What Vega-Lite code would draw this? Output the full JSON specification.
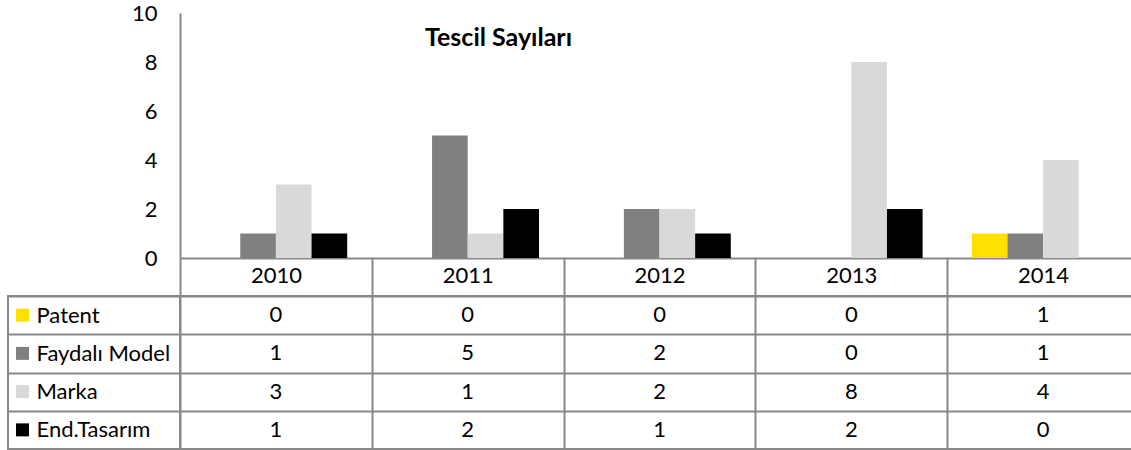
{
  "$schema": "https://vega.github.io/schema/vega-lite/v6.json",
  "padding": {"left": 7, "top": 2, "right": 0, "bottom": 0},
  "datasets": {
    "d": [
      {"year": "2010", "series": "Patent", "value": 0},
      {"year": "2010", "series": "Faydalı Model", "value": 1},
      {"year": "2010", "series": "Marka", "value": 3},
      {"year": "2010", "series": "End.Tasarım", "value": 1},
      {"year": "2011", "series": "Patent", "value": 0},
      {"year": "2011", "series": "Faydalı Model", "value": 5},
      {"year": "2011", "series": "Marka", "value": 1},
      {"year": "2011", "series": "End.Tasarım", "value": 2},
      {"year": "2012", "series": "Patent", "value": 0},
      {"year": "2012", "series": "Faydalı Model", "value": 2},
      {"year": "2012", "series": "Marka", "value": 2},
      {"year": "2012", "series": "End.Tasarım", "value": 1},
      {"year": "2013", "series": "Patent", "value": 0},
      {"year": "2013", "series": "Faydalı Model", "value": 0},
      {"year": "2013", "series": "Marka", "value": 8},
      {"year": "2013", "series": "End.Tasarım", "value": 2},
      {"year": "2014", "series": "Patent", "value": 1},
      {"year": "2014", "series": "Faydalı Model", "value": 1},
      {"year": "2014", "series": "Marka", "value": 4},
      {"year": "2014", "series": "End.Tasarım", "value": 0}
    ]
  },
  "columns": 2,
  "spacing": {"row": 38, "column": 0},
  "bounds": "flush",
  "concat": [
    {
      "width": 172,
      "height": 245,
      "data": {"values": [{}]},
      "mark": {"type": "point", "opacity": 0},
      "view": {"stroke": null}
    },
    {
      "width": 959,
      "height": 245,
      "data": {"name": "d"},
      "title": {"text": "Tescil Sayıları", "anchor": "start", "frame": "group", "dx": 245, "dy": 53, "fontSize": 25, "fontWeight": "bold", "font": "Lato", "color": "#000"},
      "mark": {"type": "bar"},
      "encoding": {
        "x": {
          "field": "year", "type": "ordinal",
          "scale": {"type": "band", "paddingInner": 0, "paddingOuter": 0},
          "axis": {"title": null, "labelAngle": 0, "tickBand": "extent", "tickSize": 38, "tickColor": "#888", "tickWidth": 2, "domainColor": "#888", "domainWidth": 2, "labelPadding": -31, "labelFontSize": 22, "labelColor": "#000", "grid": false}
        },
        "xOffset": {
          "field": "series", "type": "nominal",
          "sort": ["Patent", "Faydalı Model", "Marka", "End.Tasarım"],
          "scale": {"paddingInner": 0, "paddingOuter": 0.69}
        },
        "y": {
          "field": "value", "type": "quantitative",
          "scale": {"domain": [0, 10], "nice": false},
          "axis": {"title": null, "values": [0, 2, 4, 6, 8, 10], "grid": false, "ticks": false, "labelPadding": 23, "domainColor": "#888", "domainWidth": 2, "labelFontSize": 22, "labelColor": "#000"}
        },
        "color": {
          "field": "series", "type": "nominal",
          "scale": {"domain": ["Patent", "Faydalı Model", "Marka", "End.Tasarım"], "range": ["#FFE000", "#808080", "#D9D9D9", "#000000"]},
          "legend": null
        }
      },
      "view": {"stroke": null}
    },
    {
      "width": 172,
      "height": 153,
      "data": {"name": "d"},
      "transform": [{"filter": "datum.year == '2010'"}],
      "mark": {"type": "point", "shape": "square", "filled": true, "size": 169, "opacity": 1},
      "encoding": {
        "x": {"datum": 14.5, "type": "quantitative", "scale": {"domain": [0, 172], "nice": false, "zero": false}, "axis": null},
        "y": {
          "field": "series", "type": "nominal",
          "sort": ["Patent", "Faydalı Model", "Marka", "End.Tasarım"],
          "scale": {"type": "band", "paddingInner": 0, "paddingOuter": 0},
          "axis": {"title": null, "tickBand": "extent", "grid": true, "gridColor": "#888", "gridWidth": 2, "ticks": false, "tickSize": 0, "domain": false, "labelAlign": "left", "labelPadding": -28, "labelFontSize": 22, "labelColor": "#000"}
        },
        "color": {
          "field": "series", "type": "nominal",
          "scale": {"domain": ["Patent", "Faydalı Model", "Marka", "End.Tasarım"], "range": ["#FFE000", "#808080", "#D9D9D9", "#000000"]},
          "legend": null
        }
      },
      "view": {"stroke": "#888", "strokeWidth": 2}
    },
    {
      "width": 959,
      "height": 153,
      "data": {"name": "d"},
      "mark": {"type": "text", "fontSize": 22, "color": "#000"},
      "encoding": {
        "x": {
          "field": "year", "type": "ordinal",
          "scale": {"type": "band", "paddingInner": 0, "paddingOuter": 0},
          "axis": {"title": null, "labels": false, "ticks": false, "domain": false, "grid": true, "gridColor": "#888", "gridWidth": 2, "tickBand": "extent"}
        },
        "y": {
          "field": "series", "type": "nominal",
          "sort": ["Patent", "Faydalı Model", "Marka", "End.Tasarım"],
          "scale": {"type": "band", "paddingInner": 0, "paddingOuter": 0},
          "axis": {"title": null, "labels": false, "ticks": false, "domain": false, "grid": true, "gridColor": "#888", "gridWidth": 2, "tickBand": "extent"}
        },
        "text": {"field": "value", "type": "quantitative"}
      },
      "view": {"stroke": "#888", "strokeWidth": 2}
    }
  ],
  "config": {
    "font": "Lato",
    "axis": {"labelFont": "Lato"},
    "text": {"font": "Lato"}
  }
}
